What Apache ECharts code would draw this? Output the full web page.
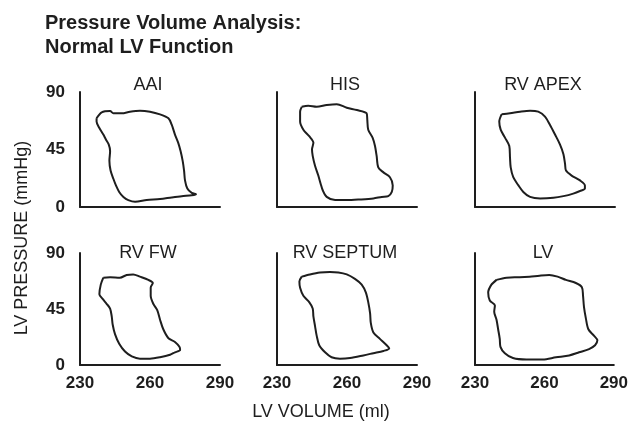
<!DOCTYPE html>
<html>
<head>
<meta charset="utf-8">
<script src="https://cdn.jsdelivr.net/npm/echarts@6/dist/echarts.min.js"></script>
<style>
  html, body { margin: 0; padding: 0; background: #fff; }
  #chart { width: 631px; height: 426px; }
</style>
</head>
<body>
<div id="chart"></div>
<script>
// panel names, in reading order
var panelNames = ["AAI", "HIS", "RV APEX", "RV FW", "RV SEPTUM", "LV"];

// tick values
var volumeTicks = [230, 260, 290];
var pressureTicks = [0, 45, 90];

// loops (volume ml / pressure mmHg)
var aaiVolume   = [237.1,239.3,242.9,244.3,247.9,251.4,255.7,260,264.3,267.9,269.3,270.7,272.1,273.1,274,274.6,275,276,277.9,279.7,277.9,273.6,269.3,264.3,258.6,253.6,250.7,248.6,246.8,245.4,244.3,243.1,242.6,242.9,242.3,241.1,240,238.3,237.1];
var aaiPressure = [69.4,74.1,75.1,73.3,73.3,74.6,75.4,74.6,72.5,69.4,64.4,56.7,50.2,43.8,36.1,28.5,20.8,14.4,11,10,9.2,8.5,7.5,6.2,5.4,4.1,5.4,7.9,11.8,16.9,22.1,28.5,36.1,43.8,49,52.8,56.7,61.8,66.9];

var hisVolume   = [240.6,243.4,247,251.3,255.6,259.9,264.2,268.4,268.7,269.1,271,272,272.7,273.4,275.6,278.4,279.6,279.2,277.7,274.9,271.3,265.6,259.9,254.9,251.3,249.6,248.7,247.7,246.3,245.3,245,245.6,243.8,241.3,239.9,239.9];
var hisPressure = [78.4,79.2,78.4,79.8,80.5,77.7,75.9,73.3,68.2,60.5,54.1,47.7,40,31,27.1,23.3,16.9,11.8,8.5,7.9,6.7,5.9,5.4,5.4,7.9,13.1,18.2,24.6,32.3,40,45.1,50.2,55.4,60.5,66.9,74.6];

var apexVolume   = [241.4,245,249.3,253.6,257.1,260,262.1,264.3,266.4,267.9,268.6,269,271.4,275,277.1,277.1,275,272.1,267.9,263.6,257.9,253.6,250.7,248.6,246.4,245.3,245,244.7,242.9,241,240.4];
var apexPressure = [72.5,73.3,74.6,75.4,74.6,70.7,64.4,56.7,49,41.3,33.6,28.5,24.6,20.8,16.9,14.4,12.5,10.5,8.5,7.2,6.7,7.9,11.8,16.9,23.3,31,38.7,47.7,54.1,60.5,66.9];

var fwVolume   = [240,242.9,247.1,250,252.8,255.7,259.3,261.2,260.3,260.3,261.4,263.1,264.3,265.7,267.9,270.7,272.6,272.9,270.7,268.6,264.3,260,255.7,252.2,249.3,246.8,245,244,243.6,242.9,241.4,239.7,238.3,238.9];
var fwPressure = [70.2,70.5,70.2,72.3,72.8,71,68.4,65.9,62.1,55.6,49.2,44.1,36.4,28.7,21.5,18.5,14.6,12.1,10.2,8.2,6.2,5.1,5.1,6.9,10.8,17.1,24.8,32.5,39,45.4,49.2,53.1,56.9,64.6];

var septumVolume   = [240.6,244.1,248.4,252.7,256.3,259.9,263.4,266.3,268.1,269.1,269.9,270.2,271.3,274.1,277,278.1,275.6,271.3,267,261.3,257,253.4,250.6,248.1,247,246.3,245.6,245.3,243.8,241.3,239.9,239.6];
var septumPressure = [71,72.8,74.4,74.8,74.4,72.8,69.2,64.6,58.2,50.5,41.5,33.8,26.1,21,15.9,13.3,11.3,9.5,7.7,5.6,5.1,6.2,10.2,15.9,23.6,31.3,39,45.4,50.5,55.6,62.1,67.1];

var lvVolume   = [239.3,243.6,249.3,253.6,257.9,262.1,265.7,269.3,273.6,276.2,276.7,277.1,277.9,279,281.4,282.9,281.9,279.3,275,270.7,265,259.3,252.2,246.4,242.9,241,240.7,240,239.3,238.3,238.6,236.4,235.7,237.1];
var lvPressure = [68.4,70.2,70.5,71,71.8,72.3,71,68.4,65.9,62.5,55.6,46.7,37.7,28.7,23.6,19.8,15.9,12.8,10.2,7.7,6.2,4.4,4.4,5.6,9.5,14.6,21,28.7,36.4,42.8,47.9,51.8,58.2,64.6];

var loops = [
  [aaiVolume, aaiPressure],
  [hisVolume, hisPressure],
  [apexVolume, apexPressure],
  [fwVolume, fwPressure],
  [septumVolume, septumPressure],
  [lvVolume, lvPressure]
];

var ink = "#1e1e1e";
var lefts = [80, 277, 475];
var gw = 140;

var grids = [], xAxes = [], yAxes = [], series = [], texts = [];

for (var i = 0; i < 6; i++) {
  var row = Math.floor(i / 3), col = i % 3;
  var gTop = row === 0 ? 92 : 253;
  var gBottom = row === 0 ? 219 : 61;
  grids.push({ left: lefts[col], width: gw, top: gTop, bottom: gBottom });

  xAxes.push({
    gridIndex: i, type: "value",
    min: volumeTicks[0], max: volumeTicks[2], interval: 30,
    axisLine: { show: true, onZero: false, lineStyle: { color: ink, width: 2 } },
    axisTick: { show: false },
    splitLine: { show: false },
    axisLabel: { show: row === 1, color: ink, fontSize: 17, fontWeight: "bold", fontFamily: "Liberation Sans", margin: 10 }
  });
  yAxes.push({
    gridIndex: i, type: "value",
    min: pressureTicks[0], max: pressureTicks[2], interval: 45,
    axisLine: { show: true, onZero: false, lineStyle: { color: ink, width: 2 } },
    axisTick: { show: false },
    splitLine: { show: false },
    axisLabel: { show: col === 0, color: ink, fontSize: 17, fontWeight: "bold", fontFamily: "Liberation Sans", margin: 15 }
  });

  var vol = loops[i][0], pr = loops[i][1], pts = [];
  for (var k = 0; k < vol.length; k++) pts.push([vol[k], pr[k]]);
  pts.push([vol[0], pr[0]]);
  series.push({
    type: "line", xAxisIndex: i, yAxisIndex: i,
    data: pts, showSymbol: false, smooth: 0.3,
    lineStyle: { color: ink, width: 2 }, silent: true
  });

  texts.push({
    type: "text",
    x: lefts[col] + 68,
    y: row === 0 ? 85 : 253,
    style: {
      text: panelNames[i], fill: ink, font: "18px 'Liberation Sans'",
      textAlign: "center", textVerticalAlign: "middle"
    }
  });
}

// main title + shared axis names
texts.push({
  type: "text", x: 45, y: 11,
  style: {
    text: "Pressure Volume Analysis:\nNormal LV Function", fill: ink,
    font: "bold 20px 'Liberation Sans'", lineHeight: 24
  }
});
texts.push({
  type: "text", x: 321, y: 412,
  style: { text: "LV VOLUME (ml)", fill: ink, font: "18px 'Liberation Sans'", textAlign: "center", textVerticalAlign: "middle" }
});
texts.push({
  type: "text", x: 22, y: 238, rotation: Math.PI / 2,
  style: { text: "LV PRESSURE (mmHg)", fill: ink, font: "18px 'Liberation Sans'", textAlign: "center", textVerticalAlign: "middle" }
});

var myChart = echarts.init(document.getElementById("chart"));
myChart.setOption({
  backgroundColor: "#fff",
  animation: false,
  grid: grids,
  xAxis: xAxes,
  yAxis: yAxes,
  series: series,
  graphic: texts
});
</script>
</body>
</html>
